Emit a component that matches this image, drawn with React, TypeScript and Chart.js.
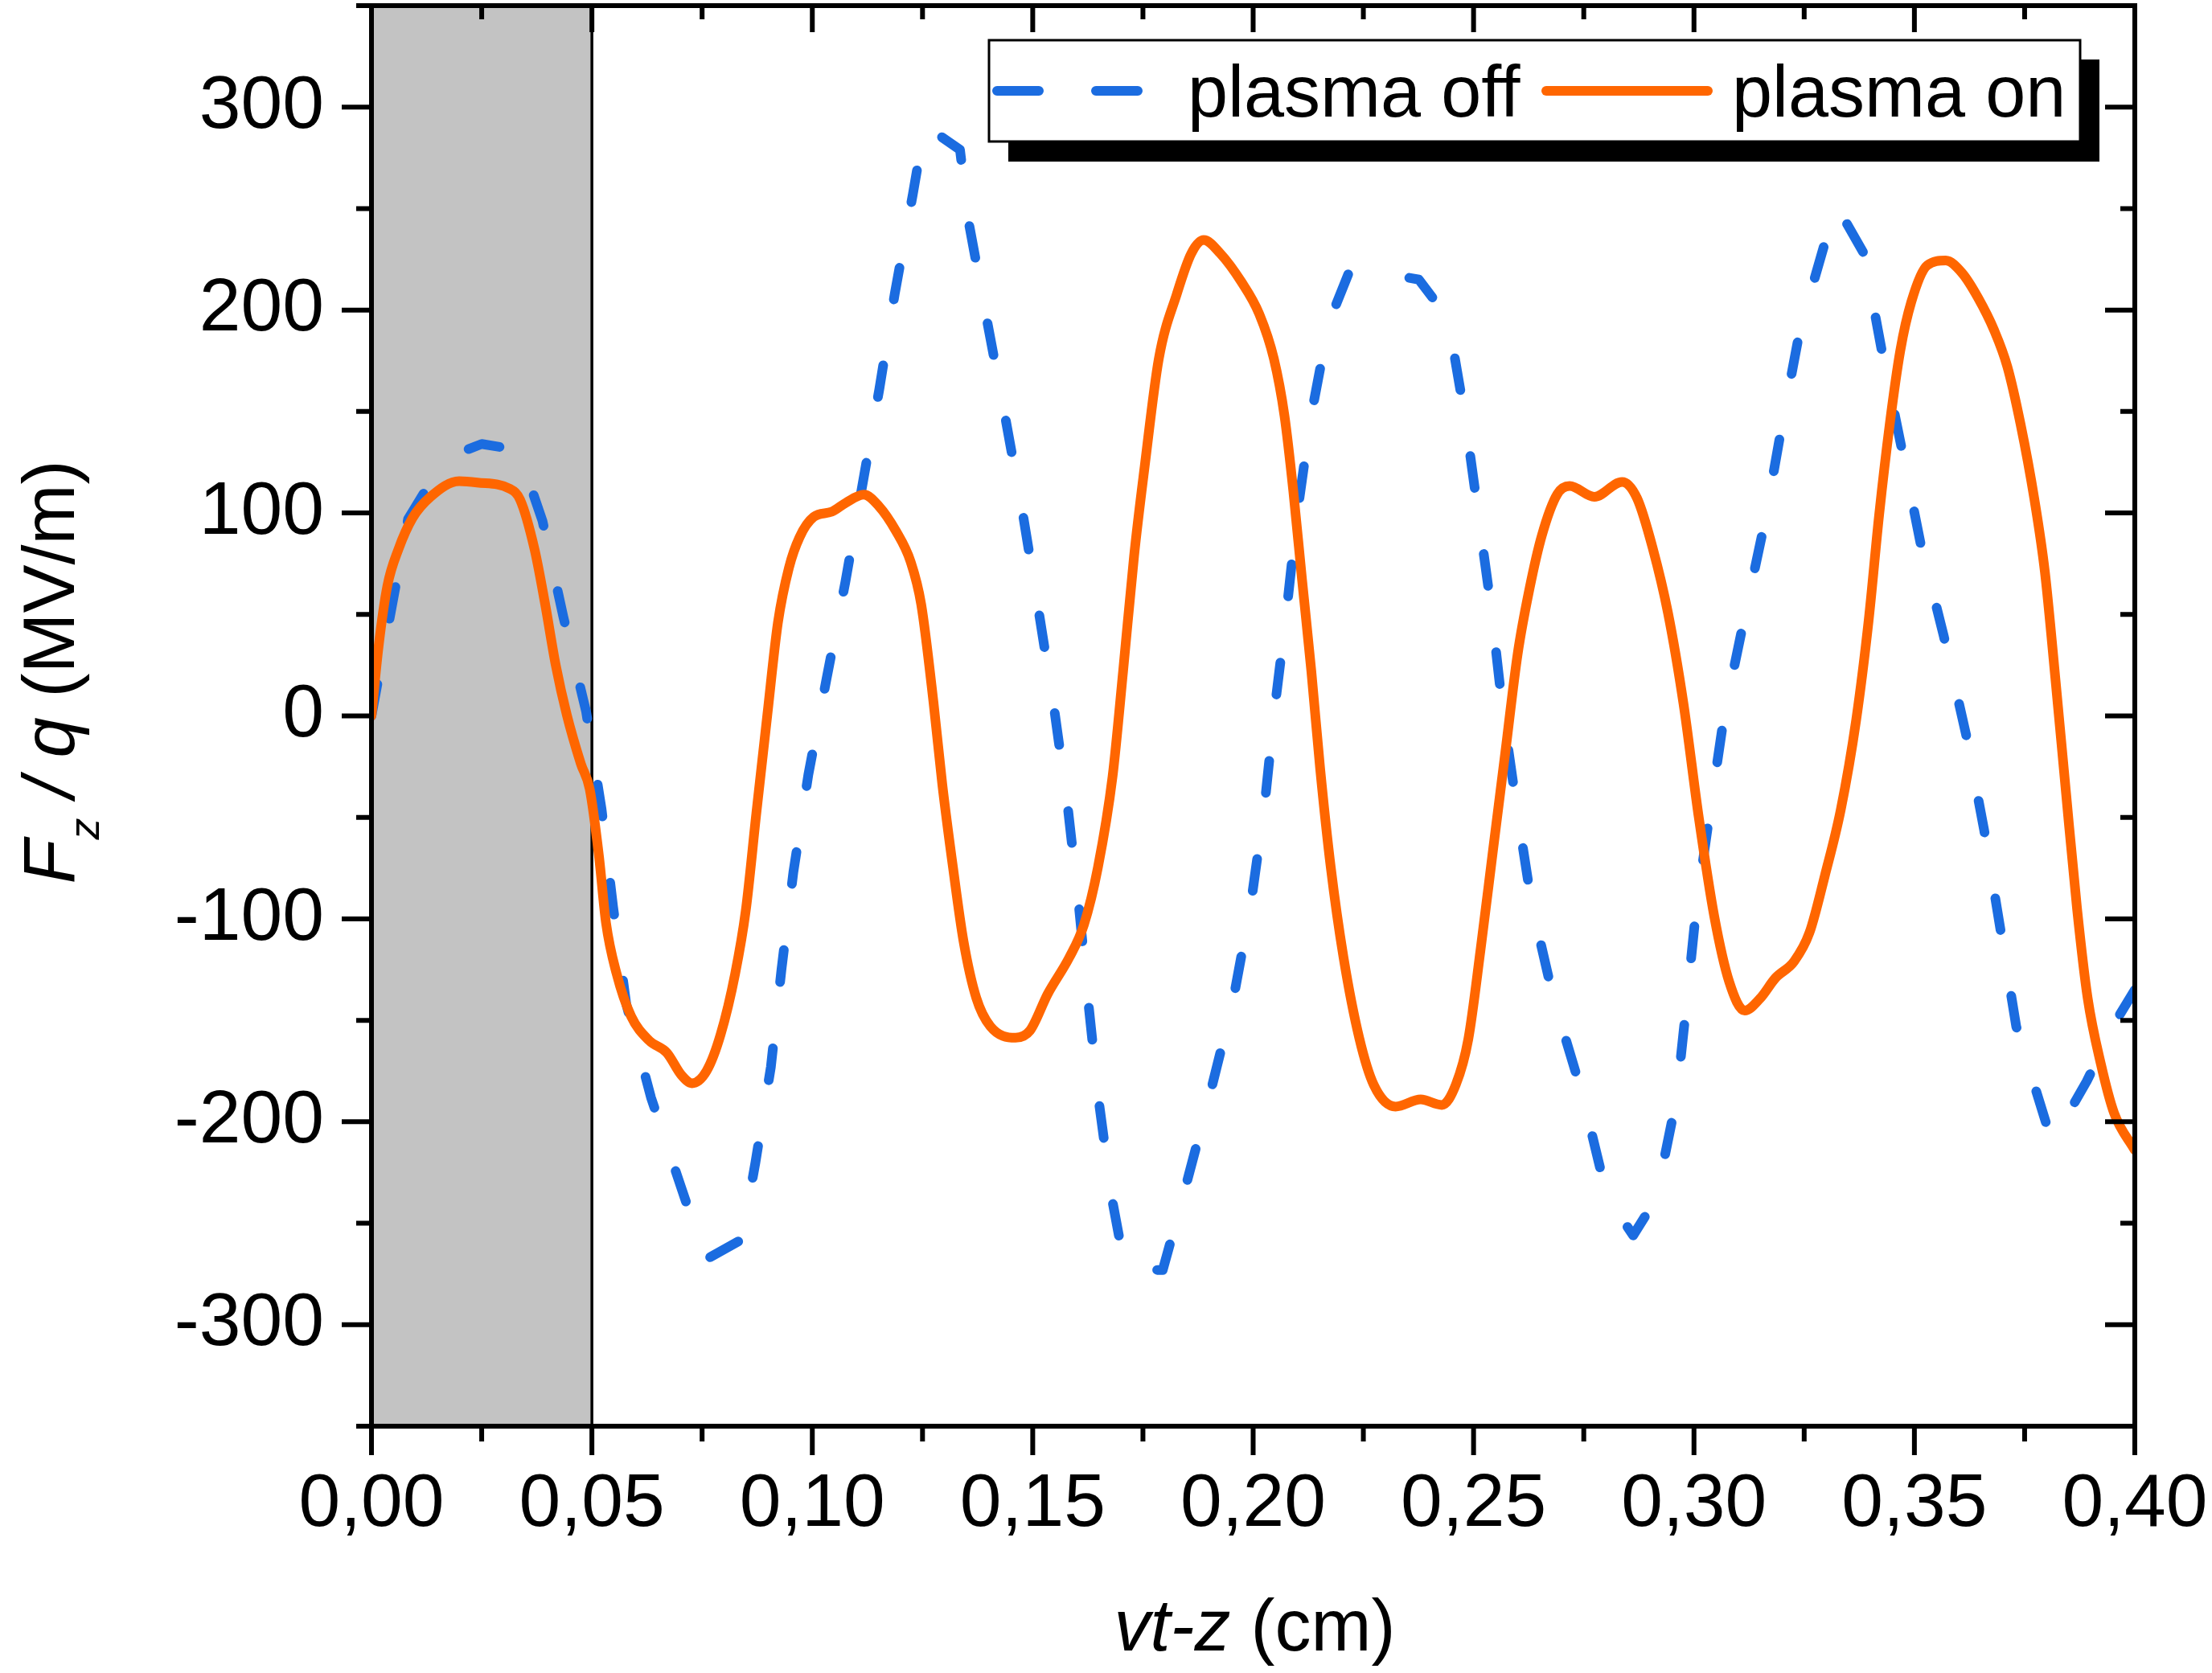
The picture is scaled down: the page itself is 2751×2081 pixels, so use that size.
import React, { useEffect, useRef } from 'react';
import { Chart, registerables } from 'chart.js';

Chart.register(...registerables);

// ---------- data ----------
const X_MIN = 0;
const X_MAX = 0.4;
const Y_MIN = -350;
const Y_MAX = 350;
const X_LABEL_STEP = 0.05;
const X_MINOR_STEP = 0.025;
const Y_LABEL_STEP = 100;
const Y_MINOR_STEP = 50;
const SHADE_END = 0.05;
const SERIES_LABELS = ['plasma off', 'plasma on'];

const OFF_X = [
  0, 0.0083, 0.0167, 0.025, 0.0333, 0.0388, 0.0435, 0.0487, 0.0522, 0.0548,
  0.0578, 0.0634, 0.0705, 0.0758, 0.084, 0.0871, 0.0906, 0.093, 0.0957, 0.0991,
  0.1032, 0.1075, 0.1113, 0.1152, 0.1187, 0.1228, 0.1255, 0.1335, 0.1355, 0.1397,
  0.1437, 0.1478, 0.1514, 0.1549, 0.1579, 0.1604, 0.1626, 0.165, 0.1679, 0.171,
  0.1795, 0.1842, 0.1898, 0.1953, 0.1994, 0.2026, 0.2048, 0.2075, 0.2099, 0.213,
  0.2172, 0.2222, 0.2376, 0.2442, 0.248, 0.2511, 0.254, 0.2566, 0.2597, 0.2632,
  0.2681, 0.2746, 0.2803, 0.2862, 0.2914, 0.296, 0.2983, 0.3005, 0.3037, 0.3069,
  0.3115, 0.3161, 0.3201, 0.3241, 0.3322, 0.3385, 0.3426, 0.347, 0.3514, 0.3567,
  0.3617, 0.3658, 0.3695, 0.3731, 0.3812, 0.3891, 0.3958, 0.4,
];
const OFF_Y = [
  0, 97, 127, 134, 131, 96, 49, 2, -46, -94,
  -142, -188, -234, -268, -258, -220, -173, -125, -77, -29,
  18, 66, 113, 161, 208, 257, 291, 279, 243, 194,
  148, 99, 51, 3, -44, -92, -141, -190, -237, -273,
  -273, -236, -190, -142, -94, -44, 2, 50, 98, 146,
  194, 221, 215, 196, 148, 99, 53, 3, -44, -93,
  -139, -186, -237, -256, -238, -189, -142, -95, -46, 1,
  49, 96, 145, 191, 252, 228, 180, 133, 85, 39,
  -9, -56, -105, -153, -210, -180, -150, -135,
];

const ON_X = [
  0, 0.0016, 0.0036, 0.0061, 0.0093, 0.0134, 0.0199, 0.024, 0.0313, 0.0337,
  0.037, 0.0394, 0.0418, 0.0443, 0.0475, 0.0495, 0.0516, 0.0532, 0.0556, 0.0589,
  0.063, 0.067, 0.0703, 0.0727, 0.076, 0.0792, 0.0825, 0.0849, 0.0873, 0.0898,
  0.0922, 0.0947, 0.0971, 0.1003, 0.1044, 0.1076, 0.1117, 0.115, 0.119, 0.1223,
  0.1247, 0.1275, 0.1295, 0.1319, 0.1343, 0.1372, 0.1404, 0.1461, 0.1494, 0.1534,
  0.1583, 0.1616, 0.1648, 0.1681, 0.1705, 0.173, 0.1754, 0.1786, 0.1827, 0.186,
  0.1888, 0.1925, 0.1973, 0.2014, 0.2047, 0.2071, 0.2091, 0.2111, 0.2132, 0.2152,
  0.2176, 0.2205, 0.2241, 0.2274, 0.2323, 0.238, 0.2428, 0.246, 0.2488, 0.2516,
  0.2544, 0.2572, 0.26, 0.2627, 0.2655, 0.269, 0.2718, 0.2774, 0.2837, 0.2871,
  0.2906, 0.2941, 0.2976, 0.3011, 0.3046, 0.308, 0.3115, 0.315, 0.3185, 0.3227,
  0.3262, 0.3297, 0.3333, 0.3368, 0.3396, 0.342, 0.3444, 0.3468, 0.3493, 0.3529,
  0.3571, 0.3608, 0.3644, 0.3681, 0.3711, 0.3741, 0.3772, 0.3796, 0.382, 0.3844,
  0.3869, 0.3893, 0.3923, 0.3953, 0.4,
];
const ON_Y = [
  0, 34, 64, 82, 97.5, 108, 115.7, 115, 112, 106.6,
  82, 55, 25, 0.6, -23.6, -36, -69, -102, -127, -148,
  -160, -166, -177, -181, -175, -157, -127, -96, -48, 0.6,
  46, 73, 88, 98, 100.6, 105, 109, 103.6, 91, 76,
  55, 6.5, -34, -74.5, -111, -139, -153, -158.6, -155, -137,
  -119, -103, -74.5, -30, 22, 79, 123, 176, 208, 228,
  234.5, 228, 214, 198, 176, 148, 111, 67, 22, -26,
  -74.5, -119, -159, -182, -192.5, -189, -191.7, -181.6, -159.4, -115,
  -66.4, -18, 30.5, 62.8, 89, 109.3, 113.3, 108, 115.3, 107.2,
  83, 50.8, 6.3, -50.2, -98.8, -131.1, -145.2, -139.2, -129.1, -121,
  -106.8, -78.6, -46.2, -1.9, 46.6, 99, 143.6, 180, 204, 222,
  224.4, 218.3, 206.2, 190, 172, 143.6, 107, 71, 18, -38,
  -95, -139, -171.5, -195.7, -214,
];

// ---------- styles ----------
const FONT = "'Liberation Sans', Arial, Helvetica, sans-serif";
const BLUE = '#1b6ce0';
const ORANGE = '#ff6600';
const SHADE = '#c3c3c3';

type Part = { t: string; italic?: boolean; size: number; dy?: number };

function drawParts(ctx: CanvasRenderingContext2D, parts: Part[], x: number, y: number) {
  const fontOf = (p: Part) => `${p.italic ? 'italic ' : ''}${p.size}px ${FONT}`;
  const widths = parts.map((p) => {
    ctx.font = fontOf(p);
    return ctx.measureText(p.t).width;
  });
  const total = widths.reduce((a, b) => a + b, 0);
  let cx = x - total / 2;
  ctx.textAlign = 'left';
  ctx.textBaseline = 'alphabetic';
  parts.forEach((p, i) => {
    ctx.font = fontOf(p);
    ctx.fillText(p.t, cx, y + (p.dy || 0));
    cx += widths[i];
  });
}

const decorPlugin = {
  id: 'decor',
  beforeDraw(chart: any) {
    const ctx = chart.ctx as CanvasRenderingContext2D;
    ctx.save();
    ctx.fillStyle = '#ffffff';
    ctx.fillRect(0, 0, chart.width, chart.height);
    ctx.restore();
  },
  beforeDatasetsDraw(chart: any) {
    const ctx = chart.ctx as CanvasRenderingContext2D;
    const { top, bottom, left } = chart.chartArea;
    const xs = chart.scales.x;
    const x1 = xs.getPixelForValue(SHADE_END);
    const x0 = Math.max(left, xs.getPixelForValue(X_MIN));
    ctx.save();
    ctx.fillStyle = SHADE;
    ctx.fillRect(x0, top, x1 - x0, bottom - top);
    ctx.strokeStyle = '#000';
    ctx.lineWidth = 3.5;
    ctx.beginPath();
    ctx.moveTo(x1, top);
    ctx.lineTo(x1, bottom);
    ctx.stroke();
    ctx.restore();
  },
  afterDraw(chart: any) {
    const ctx = chart.ctx as CanvasRenderingContext2D;
    const { top, bottom, left, right } = chart.chartArea;
    const xs = chart.scales.x;
    const ys = chart.scales.y;
    ctx.save();
    ctx.strokeStyle = '#000';
    ctx.lineCap = 'butt';

    // ticks
    ctx.lineWidth = 6;
    const nx = Math.round((X_MAX - X_MIN) / X_MINOR_STEP);
    for (let i = 0; i <= nx; i++) {
      const v = X_MIN + i * X_MINOR_STEP;
      const major = Math.abs(v / X_LABEL_STEP - Math.round(v / X_LABEL_STEP)) < 1e-6;
      const px = xs.getPixelForValue(v);
      ctx.beginPath();
      ctx.moveTo(px, bottom);
      ctx.lineTo(px, bottom + (major ? 36 : 19));
      ctx.moveTo(px, top);
      ctx.lineTo(px, top + (major ? 33 : 17));
      ctx.stroke();
    }
    const ny = Math.round((Y_MAX - Y_MIN) / Y_MINOR_STEP);
    for (let i = 0; i <= ny; i++) {
      const v = Y_MIN + i * Y_MINOR_STEP;
      const major = v % Y_LABEL_STEP === 0;
      const py = ys.getPixelForValue(v);
      ctx.beginPath();
      ctx.moveTo(left, py);
      ctx.lineTo(left - (major ? 37 : 19), py);
      ctx.moveTo(right, py);
      ctx.lineTo(right - (major ? 37 : 18), py);
      ctx.stroke();
    }

    // frame
    ctx.lineWidth = 6;
    ctx.strokeRect(left, top, right - left, bottom - top);

    // legend
    const bw = 1357;
    const bh = 126;
    const bx = right - 68 - bw;
    const by = top + 43;
    ctx.fillStyle = '#000';
    ctx.fillRect(bx + 24, by + 24, bw, bh + 1);
    ctx.fillStyle = '#fff';
    ctx.fillRect(bx, by, bw, bh);
    ctx.lineWidth = 3;
    ctx.strokeStyle = '#000';
    ctx.strokeRect(bx, by, bw, bh);

    const ly = by + 63;
    ctx.lineWidth = 12;
    ctx.lineCap = 'round';
    ctx.strokeStyle = BLUE;
    ctx.setLineDash([52, 71]);
    ctx.beginPath();
    ctx.moveTo(bx + 10, ly);
    ctx.lineTo(bx + 185, ly);
    ctx.stroke();
    ctx.setLineDash([]);
    ctx.strokeStyle = ORANGE;
    ctx.beginPath();
    ctx.moveTo(bx + 693, ly);
    ctx.lineTo(bx + 894, ly);
    ctx.stroke();

    ctx.fillStyle = '#000';
    ctx.font = `90px ${FONT}`;
    ctx.textAlign = 'left';
    ctx.textBaseline = 'alphabetic';
    ctx.fillText(SERIES_LABELS[0], bx + 247, by + 95);
    ctx.fillText(SERIES_LABELS[1], bx + 924, by + 95);

    // x title
    drawParts(
      ctx,
      [
        { t: 'vt-z', italic: true, size: 90 },
        { t: ' (cm)', size: 90 },
      ],
      (left + right) / 2 + 2,
      2053
    );

    // y title
    ctx.save();
    ctx.translate(92, 836);
    ctx.rotate(-Math.PI / 2);
    drawParts(
      ctx,
      [
        { t: 'F', italic: true, size: 90 },
        { t: 'z', italic: true, size: 54, dy: 31 },
        { t: ' / q', italic: true, size: 90 },
        { t: ' (MV/m)', size: 90 },
      ],
      0,
      0
    );
    ctx.restore();

    ctx.restore();
  },
};

export default function App() {
  const ref = useRef<HTMLCanvasElement | null>(null);

  useEffect(() => {
    if (!ref.current) return;
    Chart.defaults.font.family = FONT;
    Chart.defaults.color = '#000';
    const offData = OFF_X.map((x, i) => ({ x, y: OFF_Y[i] }));
    const onData = ON_X.map((x, i) => ({ x, y: ON_Y[i] }));

    const chart = new Chart(ref.current, {
      type: 'line',
      data: {
        datasets: [
          {
            label: SERIES_LABELS[0],
            data: offData,
            borderColor: BLUE,
            borderWidth: 12,
            borderDash: [40, 83],
            borderCapStyle: 'round',
            borderJoinStyle: 'round',
            tension: 0,
            pointRadius: 0,
            fill: false,
            order: 2,
          },
          {
            label: SERIES_LABELS[1],
            data: onData,
            borderColor: ORANGE,
            borderWidth: 12,
            borderCapStyle: 'round',
            borderJoinStyle: 'round',
            cubicInterpolationMode: 'monotone',
            pointRadius: 0,
            fill: false,
            order: 1,
          },
        ],
      } as any,
      options: {
        animation: false,
        responsive: false,
        devicePixelRatio: 1,
        events: [],
        layout: { padding: { top: 7, right: 96, left: 0, bottom: 0 } },
        plugins: {
          legend: { display: false },
          tooltip: { enabled: false },
        },
        scales: {
          x: {
            type: 'linear',
            position: 'bottom',
            min: X_MIN,
            max: X_MAX,
            grid: { display: false, drawTicks: true, tickLength: 43 },
            border: { display: false },
            ticks: {
              stepSize: X_LABEL_STEP,
              autoSkip: false,
              maxRotation: 0,
              minRotation: 0,
              padding: 0,
              color: '#000',
              font: { size: 93, lineHeight: 1.2 },
              callback: (v: any) => Number(v).toFixed(2).replace('.', ','),
            },
            afterFit: (s: any) => {
              s.height = 307;
              s.paddingTop = 0;
              s.paddingBottom = 0;
            },
          },
          y: {
            type: 'linear',
            position: 'left',
            min: Y_MIN,
            max: Y_MAX,
            grid: { display: false, drawTicks: true, tickLength: 59 },
            border: { display: false },
            ticks: {
              stepSize: Y_MINOR_STEP,
              autoSkip: false,
              padding: 0,
              color: '#000',
              font: { size: 93, lineHeight: 1.2 },
              callback: (v: any) => {
                const n = Math.round(Number(v));
                return n % Y_LABEL_STEP === 0 ? String(n) : null;
              },
            },
            afterFit: (s: any) => {
              s.width = 462;
              s.paddingTop = 0;
              s.paddingBottom = 0;
            },
          },
        },
      } as any,
      plugins: [decorPlugin],
    });

    return () => chart.destroy();
  }, []);

  return (
    <div style={{ position: 'fixed', left: 0, top: 0, width: 2751, height: 2081, background: '#fff' }}>
      <canvas ref={ref} width={2751} height={2081} style={{ display: 'block', width: 2751, height: 2081 }} />
    </div>
  );
}
